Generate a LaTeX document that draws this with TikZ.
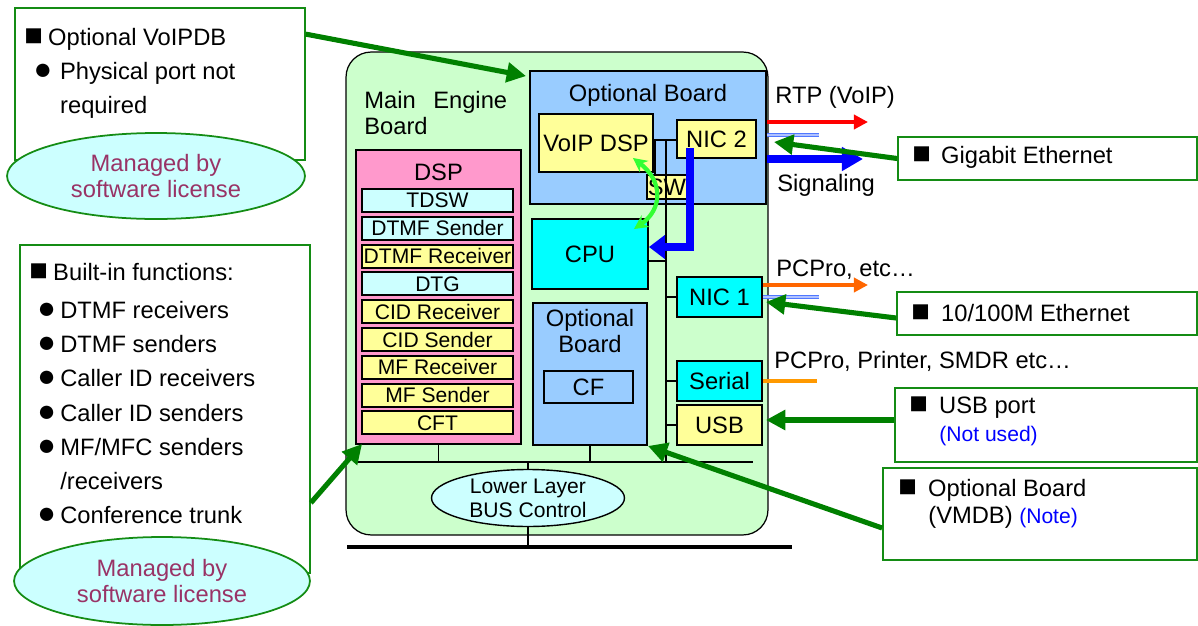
\documentclass[tikz,border=0pt]{standalone}
\usepackage{fontspec}
\setmainfont{Liberation Sans}
\usetikzlibrary{arrows.meta,shapes.geometric}

\definecolor{boardgreen}{RGB}{204,255,204}
\definecolor{optblue}{RGB}{153,204,255}
\definecolor{chipyellow}{RGB}{255,255,153}
\definecolor{chipcyan}{RGB}{0,255,255}
\definecolor{palecyan}{RGB}{204,255,255}
\definecolor{dsppink}{RGB}{255,153,204}
\definecolor{notegreen}{RGB}{0,128,0}
\definecolor{boxgreen}{RGB}{20,140,20}
\definecolor{licpurple}{RGB}{153,51,102}
\definecolor{lanblue}{RGB}{80,120,255}
\definecolor{pcorange}{RGB}{255,102,0}
\definecolor{serorange}{RGB}{255,153,0}
\definecolor{swgreen}{RGB}{51,255,51}

\newcommand\sqmark{\scalebox{1.3}{■}}
\newcommand\dotmark{\scalebox{1.3}{●}}

\begin{document}
\begin{tikzpicture}[
        x                 = 0.02cm,
        y                 = -0.02cm,
        every node/.style = {font=\fontsize{13.5}{16}\selectfont, inner sep=0pt},
        chip/.style       = {draw, line width=1.1pt, align=center},
        item/.style       = {chip, minimum width=3.02cm, minimum height=0.46cm, font=\fontsize{12}{14}\selectfont},
        notebox/.style    = {draw=boxgreen, line width=1pt, fill=white},
        license/.style    = {ellipse, draw=boxgreen, line width=1pt, fill=palecyan, text=licpurple, align=center, font=\fontsize{13.5}{14.7}\selectfont},
        notearrow/.style  = {draw=notegreen, line width=2.9pt, -{Triangle[length=11pt,width=11pt]}},
        sigline/.style    = {draw=blue, line width=4pt, -{Triangle[length=12pt,width=13pt]}},
        lanline/.style    = {draw=lanblue, line width=0.9pt, double=lanblue!45, double distance=0.6pt},
        busline/.style    = {line width=0.6pt},
    ]
    \useasboundingbox (0,0) rectangle (1198,626);

    % main engine board
    \node (meb) [draw, line width=0.7pt, fill=boardgreen, rounded corners=0.5cm, minimum width=8.44cm, minimum height=9.66cm] at (557,293.5) {};
    \node (mebtxt) [anchor=west, align=left, font=\fontsize{13.5}{14.8}\selectfont] at (364,113) {Main\hspace{10pt}Engine\\Board};

    \node (optboard) [chip, fill=optblue, minimum width=4.72cm, minimum height=2.66cm] at (648,137.5) {};
    \node (optboardtxt) at (648,95) {Optional Board};

    % bus
    \coordinate (bustop) at (666,140);
    \coordinate (swleg) at (655,140);
    \coordinate (busleft) at (356,462);
    \coordinate (busright) at (753,462);
    \draw[busline] (bustop) -- (bustop |- busleft);
    \draw[busline] (busleft) -- (busright);

    \node (voipdsp) [chip, fill=chipyellow, minimum width=2.28cm, minimum height=1.16cm] at (596,143) {VoIP DSP};
    \node (nic2) [chip, fill=chipyellow, minimum width=1.58cm, minimum height=0.76cm] at (716.5,139) {NIC 2};
    \draw[busline] (bustop -| voipdsp.east) -- (bustop -| nic2.west);
    \node (sw) [chip, fill=chipyellow, minimum width=0.8cm, minimum height=0.48cm] at (667,187) {};
    \draw[busline] (swleg) -- (swleg |- sw.north);
    \draw[busline] (bustop |- sw.north) -- (bustop |- sw.south);
    \node (swtxt) at (sw) {SW};

    \node (cpu) [chip, fill=chipcyan, minimum width=2.32cm, minimum height=1.4cm] at (590,254) {CPU};
    \draw[busline] ([yshift=-0.14cm]cpu.east) -- ([yshift=-0.14cm]cpu.east -| bustop);

    \node (optb) [chip, fill=optblue, minimum width=2.28cm, minimum height=2.84cm] at (590,374) {};
    \node (optbtxt) [align=center, font=\fontsize{13.5}{14.5}\selectfont] at (590,331) {Optional\\Board};
    \node (cf) [chip, fill=optblue, minimum width=1.78cm, minimum height=0.64cm] at (588.5,387) {CF};

    \node (nic1) [chip, fill=chipcyan, minimum width=1.7cm, minimum height=0.8cm] at (719.5,297) {NIC 1};
    \node (serial) [chip, fill=chipcyan, minimum width=1.7cm, minimum height=0.8cm] at (719.5,381) {Serial};
    \node (usb) [chip, fill=chipyellow, minimum width=1.7cm, minimum height=0.8cm] at (719.5,425) {USB};
    \draw[busline] (nic1.west) -- (nic1.west -| bustop);
    \draw[busline] (serial.west) -- (serial.west -| bustop);
    \draw[busline] (usb.west) -- (usb.west -| bustop);

    % DSP block
    \node (dsp) [chip, fill=dsppink, minimum width=3.3cm, minimum height=5.88cm] at (438.5,297) {};
    \node (dsptxt) at (438.5,172) {DSP};
    \foreach \txt/\col [count=\i] in {TDSW/palecyan, DTMF Sender/palecyan, DTMF Receiver/chipyellow, DTG/palecyan,
            CID Receiver/chipyellow, CID Sender/chipyellow, MF Receiver/chipyellow, MF Sender/chipyellow, CFT/chipyellow}
        \node (dsp\i) [item, fill=\col] at (437.5,172.7+27.8*\i) {\txt};
    \draw[busline] (dsp.south) -- (dsp.south |- busleft);
    \draw[busline] (optb.south) -- (optb.south |- busleft);

    \node (lower) [ellipse, draw, line width=0.8pt, fill=palecyan, minimum width=3.86cm, minimum height=1.14cm, align=center, font=\fontsize{12}{13.5}\selectfont] at (528,498) {Lower Layer\\BUS Control};
    \draw[busline] (lower.north) -- (lower.north |- busleft);
    \coordinate (groundl) at (347,547);
    \coordinate (groundr) at (792,547);
    \draw[line width=1.7pt] (lower.south) -- (lower.south |- groundl);
    \draw[line width=2.3pt] (groundl) -- (groundr);

    % inner arrows
    \draw[swgreen, line width=2.4pt, {Stealth[length=8pt,width=8pt]}-{Stealth[length=8pt,width=8pt]}]
        ([shift={(-21,-15)}]voipdsp.south east) .. controls +(30,23) and +(29,-20) .. ([shift={(-15,11)}]cpu.north east);
    \draw[blue, line width=4pt, -{Triangle[length=9pt,width=13pt]}] ([shift={(-26.5,9)}]nic2.center) |- ([shift={(0,-7)}]cpu.east);

    % outer lines
    \coordinate (rtpend) at (868,122);
    \coordinate (lan2end) at (819,135);
    \coordinate (sigend) at (863,159);
    \coordinate (pcend) at (868,285);
    \coordinate (lan1end) at (819,297);
    \coordinate (serend) at (817,381);
    \draw[red, line width=2.3pt, -{Triangle[length=8pt,width=8pt]}] (rtpend -| optboard.east) -- (rtpend);
    \draw[lanline] (lan2end -| optboard.east) -- (lan2end);
    \draw[sigline] (sigend -| optboard.east) -- (sigend);
    \draw[pcorange, line width=2.3pt, -{Triangle[length=8pt,width=8pt]}] (pcend -| nic1.east) -- (pcend);
    \draw[lanline] (lan1end -| nic1.east) -- (lan1end);
    \draw[serorange, line width=2.3pt] (serend -| serial.east) -- (serend);
    \node (rtplbl) [anchor=west] at (775,97) {RTP (VoIP)};
    \node (siglbl) [anchor=west] at (777,185) {Signaling};
    \node (pclbl) [anchor=west] at (776,270) {PCPro, etc…};
    \node (smdrlbl) [anchor=west] at (774,361) {PCPro, Printer, SMDR etc…};

    % notes on the left
    \node (voipbox) [notebox, minimum width=5.8cm, minimum height=3.04cm] at (160,84) {};
    \node (voiptxt) [anchor=north west, align=left, font=\fontsize{13.5}{19.3}\selectfont] at (24,28)
        {\makebox[13.6pt][l]{\sqmark}Optional VoIPDB\\
         \hspace*{5.3pt}\makebox[15pt][l]{\dotmark}Physical port not\\
         \hspace*{20.4pt}required};
    \node (lic1) [license, minimum width=5.96cm, minimum height=1.72cm] at (156,176) {Managed by\\software license};

    \node (funcbox) [notebox, minimum width=5.8cm, minimum height=6.56cm] at (165,409) {};
    \node (functxt) [anchor=north west, align=left, font=\fontsize{13.5}{19.5}\selectfont] at (29,263)
        {\makebox[13.6pt][l]{\sqmark}Built-in functions:\\[2pt]
         \hspace*{4.5pt}\makebox[13.1pt][l]{\dotmark}DTMF receivers\\
         \hspace*{4.5pt}\makebox[13.1pt][l]{\dotmark}DTMF senders\\
         \hspace*{4.5pt}\makebox[13.1pt][l]{\dotmark}Caller ID receivers\\
         \hspace*{4.5pt}\makebox[13.1pt][l]{\dotmark}Caller ID senders\\
         \hspace*{4.5pt}\makebox[13.1pt][l]{\dotmark}MF/MFC senders\\
         \hspace*{17.6pt}/receivers\\
         \hspace*{4.5pt}\makebox[13.1pt][l]{\dotmark}Conference trunk};
    \node (lic2) [license, minimum width=5.92cm, minimum height=1.76cm] at (162,581) {Managed by\\software license};

    % notes on the right
    \node (gige) [notebox, minimum width=5.98cm, minimum height=0.86cm] at (1047.5,158.5) {};
    \node (gigetxt) [anchor=west] at (912,157) {\makebox[16.4pt][l]{\sqmark}Gigabit Ethernet};
    \node (eth) [notebox, minimum width=6cm, minimum height=0.86cm] at (1047,313.5) {};
    \node (ethtxt) [anchor=west] at (911,313) {\makebox[17pt][l]{\sqmark}10/100M Ethernet};
    \node (usbport) [notebox, minimum width=6.04cm, minimum height=1.48cm] at (1046,425) {};
    \node (usbtxt) [anchor=west] at (909,408) {\makebox[17pt][l]{\sqmark}USB port};
    \node (usbnote) [anchor=west, text=blue, font=\fontsize{12}{14}\selectfont] at (939,436) {(Not used)};
    \node (vmdb) [notebox, minimum width=6.28cm, minimum height=1.84cm] at (1040,514) {};
    \node (vmdbtxt) [anchor=west] at (898,490) {\makebox[17pt][l]{\sqmark}Optional Board};
    \node (vmdbnote) [anchor=west] at (928,517) {(VMDB) {\color{blue}\fontsize{12}{14}\selectfont(Note)}};

    % pointers
    \draw[notearrow] ([shift={(0,27)}]voipbox.north east) -- ([shift={(-3,6)}]optboard.north west);
    \draw[notearrow] ([shift={(0,-71)}]funcbox.south east) -- ([shift={(7,-1)}]dsp.south west);
    \draw[notearrow] (gige.west) -- ([shift={(7,4.5)}]optboard.east);
    \draw[notearrow] ([shift={(0,4.5)}]eth.west) -- ([shift={(3,5)}]nic1.east);
    \draw[notearrow] ([shift={(0,-5)}]usbport.west) -- ([shift={(3,-5)}]usb.east);
    \draw[notearrow] ([shift={(0,14)}]vmdb.west) -- (optb.south east);
\end{tikzpicture}
\end{document}
